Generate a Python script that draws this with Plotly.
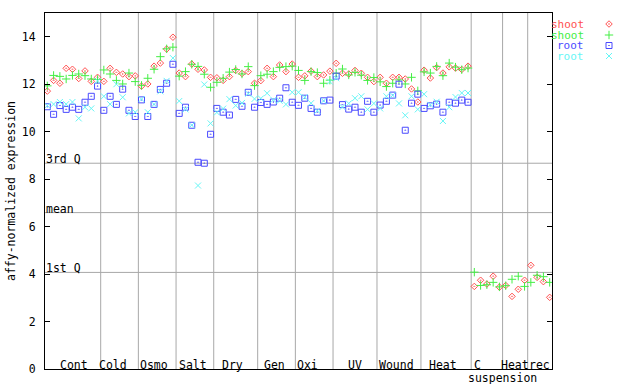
import plotly.graph_objects as go

# ---------------- data ----------------
groups = ["Cont", "Cold", "Osmo", "Salt", "Dry", "Gen", "Oxi", "UV",
          "Wound", "Heat", "C", "Heat", "rec"]
group_sizes = [9, 6, 6, 6, 7, 6, 6, 7, 7, 8, 5, 4, 4]
group_label_pos = [4.17, 10.4, 17.0, 23.2, 29.5, 36.2, 41.4, 49.0,
                   55.6, 63.0, 68.5, 74.5, 78.4]
sub_label = "suspension"
sub_label_pos = 72.5

shoot_a = [11.71, 12.16, 12.04, 12.67, 12.63, 12.24, 12.56, 12.12, 12.29,
           12.12, 12.67, 12.50, 12.43, 12.32, 12.35,
           11.92, 12.01, 12.76, 12.89, 13.48, 13.98,
           12.47, 12.32, 12.85, 12.63, 12.60, 12.29,
           12.27, 12.16, 12.32, 12.58, 12.45, 12.53, 12.04,
           12.15, 12.67, 12.32, 12.81, 12.53, 12.85,
           12.29, 12.35, 12.55, 12.32, 12.39, 12.55,
           12.88, 12.46, 12.43, 12.58, 12.46, 12.29, 12.11,
           12.29, 12.04, 12.29, 12.29, 12.22, 11.80, 11.25,
           12.59, 12.26, 12.70, 12.47, 12.73, 12.68, 12.62, 12.76,
           3.48, 3.74, 3.58, 3.91, 3.45,
           3.52, 3.06, 3.36, 3.74,
           4.37, 3.86, 3.68, 3.02]
shoot_b = [11.93, 12.37, 12.33, 12.22, 12.37, 12.43, 12.36, 12.22, 12.20,
           12.60, 12.43, 12.16, 12.01, 12.47, 12.11,
           11.95, 12.25, 12.63, 13.16, 13.49, 13.56,
           12.34, 12.53, 12.84, 12.75, 12.42, 11.87,
           12.08, 12.25, 12.51, 12.62, 12.43, 12.74, 11.94,
           12.36, 12.42, 12.53, 12.71, 12.74, 12.76,
           12.58, 12.16, 12.53, 12.49, 12.04, 12.17,
           12.46, 12.64, 12.39, 12.50, 12.38, 12.16, 12.28,
           12.10, 11.90, 12.04, 12.18, 12.01, 12.29, 11.72,
           12.52, 12.47, 12.75, 12.36, 12.89, 12.72, 12.61, 12.68,
           4.08, 3.52, 3.55, 3.65, 3.46,
           3.51, 3.78, 3.91, 3.48,
           3.65, 3.95, 3.89, 3.65]
root_a = [11.05, 10.73, 11.10, 10.94, 11.03, 10.94, 11.24, 11.49, 11.92,
          10.90, 11.49, 11.15, 11.79, 10.90, 10.64,
          11.34, 10.64, 11.15, 11.78, 12.04, 12.84,
          10.77, 11.03, 10.27, 8.71, 8.67, 9.89,
          10.98, 10.82, 10.70, 11.36, 11.07, 11.66, 11.03,
          11.23, 11.15, 11.25, 11.41, 11.85, 11.24,
          11.11, 11.41, 10.98, 10.82, 11.30, 11.33,
          12.34, 11.14, 10.95, 11.03, 10.82, 11.28, 10.82,
          11.12, 11.28, 11.54, 12.00, 10.06, 11.20, 11.58,
          10.98, 11.09, 11.16, 10.82, 11.24, 11.20, 11.33, 11.24]
root_b = [11.10, 11.16, 11.25, 11.16, 11.25, 10.56, 11.03, 10.98, 12.14,
          11.49, 11.16, 12.00, 11.45, 10.77, 10.82,
          11.37, 10.82, 11.15, 11.70, 12.14, 13.10,
          11.29, 10.94, 10.27, 7.73, 11.99, 10.35,
          10.81, 10.97, 11.37, 11.10, 11.21, 11.60, 11.38,
          11.40, 11.62, 11.34, 11.30, 11.15, 11.66,
          11.66, 11.45, 11.20, 10.88, 11.30, 12.11,
          12.25, 11.04, 11.19, 11.41, 11.49, 10.94, 11.19,
          10.98, 11.49, 11.53, 11.19, 10.69, 11.49, 10.94,
          11.58, 11.13, 11.26, 10.45, 11.03, 11.46, 11.63, 11.63]

ref_names = ["3rd Q", "mean", "1st Q"]
ref_values = [8.67, 6.59, 4.07]
y_ticks = [0, 2, 4, 6, 8, 10, 12, 14]

series_names = ["shoot", "shoot", "root", "root"]
series_values = [shoot_a, shoot_b, root_a, root_b]

# ---------------- style ----------------
W, H = 640, 384
PL, PR, PT, PB = 45, 552, 13, 369      # plot area in window pixels
FONT = "DejaVu Sans Mono"
FS = 11.5
GRID = "#a8a8a8"
colors = ["#ff5050", "#44ee44", "#4a4aff", "#66f6f6"]
symbols = ["diamond-open-dot", "cross-thin-open", "square-open-dot", "x-thin-open"]
sizes = [5, 6, 6, 6]

n = len(shoot_a)
fig = go.Figure()

for name, vals, col, sym, sz in zip(series_names, series_values, colors, symbols, sizes):
    fig.add_trace(go.Scatter(
        x=list(range(len(vals))), y=vals, mode="markers", name=name,
        marker=dict(symbol=sym, size=sz, color=col, line=dict(color=col, width=1)),
        showlegend=False, xaxis="x", yaxis="y"))

# legend (text then symbol, gnuplot style) on a pixel overlay axis
leg_rows = [24, 35, 45.5, 56]
for i, (name, col, sym, sz) in enumerate(zip(series_names, colors, symbols, sizes)):
    fig.add_trace(go.Scatter(
        x=[609], y=[leg_rows[i]], mode="markers", showlegend=False,
        marker=dict(symbol=sym, size=sz, color=col, line=dict(color=col, width=1)),
        xaxis="x2", yaxis="y2", hoverinfo="skip"))
    fig.add_annotation(x=586, y=leg_rows[i], xref="x2", yref="y2", text=name,
                       showarrow=False, xanchor="right", yanchor="middle",
                       font=dict(family=FONT, size=11, color=col))

# group separators
shapes = []
edges = []
acc = 0
for s in group_sizes[:-1]:
    acc += s
    edges.append(acc - 0.5)
for e in edges:
    shapes.append(dict(type="line", xref="x", yref="y", x0=e, x1=e, y0=0, y1=15,
                       line=dict(color=GRID, width=1), layer="below"))
for v in ref_values:
    shapes.append(dict(type="line", xref="x domain", yref="y", x0=0, x1=1, y0=v, y1=v,
                       line=dict(color=GRID, width=1), layer="below"))

annotations = list(fig.layout.annotations)
for name, v in zip(ref_names, ref_values):
    annotations.append(dict(x=0, y=v, xref="x domain", yref="y", text=name,
                            showarrow=False, xanchor="left", yanchor="bottom",
                            xshift=-1, yshift=-5,
                            font=dict(family=FONT, size=FS, color="black")))
for name, xp in zip(groups, group_label_pos):
    annotations.append(dict(x=xp, y=0, xref="x", yref="y", text=name,
                            showarrow=False, xanchor="center", yanchor="bottom",
                            yshift=-5, font=dict(family=FONT, size=FS, color="black")))
annotations.append(dict(x=sub_label_pos, y=0, xref="x", yref="y", text=sub_label,
                        showarrow=False, xanchor="center", yanchor="top",
                        yshift=0, font=dict(family=FONT, size=FS, color="black")))
annotations.append(dict(x=11, y=(PT + PB) / 2, xref="x2", yref="y2",
                        text="affy-normalized expression", textangle=-90,
                        showarrow=False, xanchor="center", yanchor="middle",
                        font=dict(family=FONT, size=FS, color="black")))

fig.update_layout(
    width=W, height=H, autosize=False,
    margin=dict(l=0, r=0, t=0, b=0, pad=0, autoexpand=False),
    paper_bgcolor="white", plot_bgcolor="rgba(0,0,0,0)",
    font=dict(family=FONT, size=FS, color="black"),
    xaxis=dict(domain=[PL / W, PR / W], range=[-0.37, n - 1 + 0.37],
               showticklabels=False, ticks="", showgrid=False, zeroline=False,
               showline=True, linecolor="black", linewidth=1, mirror=True,
               anchor="y", automargin=False),
    yaxis=dict(domain=[1 - PB / H, 1 - PT / H], range=[0, 15],
               tickvals=y_ticks, ticks="inside", ticklen=5, tickcolor="black",
               showgrid=False, zeroline=False, showline=True, linecolor="black",
               linewidth=1, mirror="ticks", ticklabelstandoff=6,
               ticklabeloverflow="allow", automargin=False,
               tickfont=dict(family=FONT, size=FS, color="black"), anchor="x"),
    xaxis2=dict(domain=[0, 1], range=[0, W], visible=False, anchor="y2",
                fixedrange=True, automargin=False),
    yaxis2=dict(domain=[0, 1], range=[H, 0], visible=False, anchor="x2",
                fixedrange=True, automargin=False),
    shapes=shapes,
    annotations=annotations,
)

fig.write_html("out.html", config={"responsive": False, "displayModeBar": False},
               post_script="document.body.style.margin='0px';"
                           "document.body.style.overflow='hidden';")
